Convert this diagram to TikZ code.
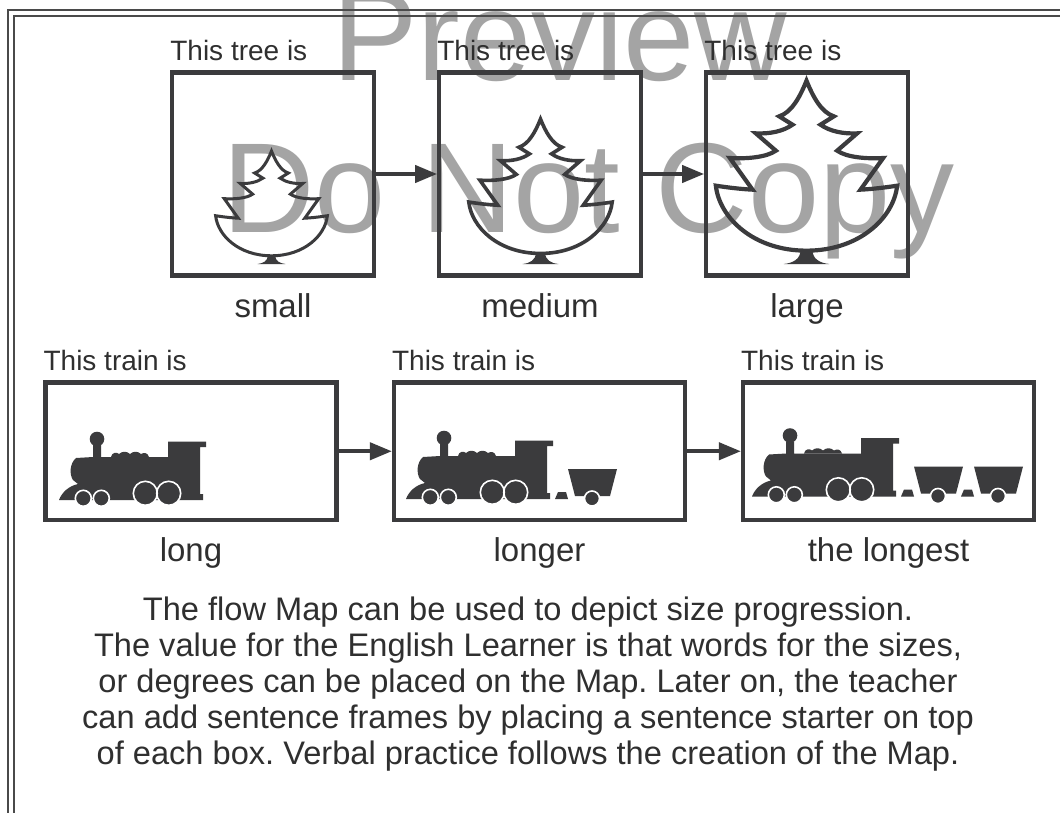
\documentclass[tikz,border=0pt]{standalone}
\usepackage{fontspec}
\setmainfont{Liberation Sans}
\usetikzlibrary{arrows.meta}
\frenchspacing

\definecolor{ink}{HTML}{3B3B3D}
\definecolor{txt}{HTML}{2F2F2F}
\definecolor{wm}{HTML}{A4A4A4}
\definecolor{rule}{HTML}{4A4A4A}

\tikzset{
  panel/.style={draw=ink, line width=4.2pt, inner sep=0pt},
  flow/.style={draw=ink, line width=4pt, -{Triangle[length=22pt,width=17pt]}},
  toplab/.style={font=\fontsize{28}{32}\selectfont, text=txt, inner sep=0pt, anchor=base west},
  botlab/.style={font=\fontsize{33}{38}\selectfont, text=txt, inner sep=0pt, anchor=base},
  para/.style={font=\fontsize{32.6}{36}\selectfont, text=txt, inner sep=0pt, anchor=base},
  wmark/.style={font=\fontsize{128}{130}\selectfont, text=wm, inner sep=0pt, anchor=base west},
  framerule/.style={draw=rule, line width=2pt},
  % fir tree outline standing on a small foot; origin at the foot's base
  firtree/.pic={
    \fill[ink] (-18,-42) .. controls (-18,-15) and (-40,-3) .. (-68,0)
      -- (68,0) .. controls (40,-3) and (18,-15) .. (18,-42) -- cycle;
    \draw[draw=ink, line width=#1, line join=miter, miter limit=4]
      (0,-550) .. controls (20,-500) and (45,-455) .. (82,-443)
      -- (42,-418) .. controls (70,-398) and (110,-390) .. (152,-392)
      -- (92,-340) .. controls (120,-320) and (180,-315) .. (230,-318)
      -- (162,-223) .. controls (200,-225) and (240,-230) .. (272,-235)
      .. controls (262,-140) and (160,-40) .. (0,-40)
      .. controls (-160,-40) and (-262,-140) .. (-272,-235)
      .. controls (-240,-230) and (-200,-225) .. (-162,-223)
      -- (-230,-318) .. controls (-180,-315) and (-120,-320) .. (-92,-340)
      -- (-152,-392) .. controls (-110,-390) and (-70,-398) .. (-42,-418)
      -- (-82,-443) .. controls (-45,-455) and (-20,-500) .. (0,-550) -- cycle;
  },
  % steam locomotive silhouette; origin at the tip of the cowcatcher
  loco/.pic={
    \fill[ink] (0,0) .. controls (3,-8) and (10,-14) .. (19,-16)
      -- (14,-20) .. controls (10,-26) and (11,-37) .. (17,-42)
      -- (34,-43) -- (34,-55) -- (42,-55) -- (42,-43) -- (109,-43)
      -- (109,-58.5) -- (147,-58.5) -- (147,-53) -- (141,-53)
      -- (141,-6) -- (144,-6) -- (144,0) -- cycle;
    \fill[ink] (38,-61) circle (7.3);
    \fill[ink] (52,-43) .. controls (53,-48) and (58,-48) .. (60,-46)
      .. controls (63,-49) and (68,-49) .. (71,-46)
      .. controls (74,-49) and (79,-49) .. (82,-46)
      .. controls (85,-48) and (89,-47) .. (90,-43) -- cycle;
    \filldraw[fill=ink, draw=white, line width=1.6pt]
      (24.3,-1.7) circle (8) (42.3,-1.7) circle (8)
      (86.3,-6.7) circle (12) (109.7,-6.7) circle (12);
  },
  % coupling plus one open wagon, placed behind the locomotive
  car/.pic={
    \fill[ink] (149,0) -- (152,-7) -- (160,-7) -- (162,0) -- cycle;
    \fill[ink] (162,-30) -- (211,-30) -- (204,-3) -- (169,-3) -- cycle;
    \filldraw[fill=ink, draw=white, line width=1.6pt] (186,-0.5) circle (7.5);
  }
}

\begin{document}
\begin{tikzpicture}[x=1pt, y=-1pt]
  \useasboundingbox (0,0) rectangle (1060,813);
  \clip (0,0) rectangle (1060,813);
  \fill[white] (0,0) rectangle (1060,813);

  % watermark
  \node[wmark] (wm1) at (332,81) {Preview};
  \node[wmark] (wm2) at (222,233) {Do Not Copy};

  % double page rule, top and left
  \draw[framerule] (1060,10) -- (8.3,10) -- (8.3,813);
  \draw[framerule] (1060,16) -- (14.3,16) -- (14.3,813);

  % tree row
  \node[panel, minimum width=201.5pt, minimum height=203pt] (t1) at (273,174) {};
  \node[panel, minimum width=201.5pt, minimum height=203pt] (t2) at (540,174) {};
  \node[panel, minimum width=201.5pt, minimum height=203pt] (t3) at (807,174) {};

  \pic[scale=0.2054] at (271.5,264) {firtree=3pt};
  \pic[scale=0.2635] at (540.5,264) {firtree=3.6pt};
  \pic[scale=0.3333] at (806.5,264) {firtree=4.2pt};

  \draw[flow] (t1.east) -- (t2.west);
  \draw[flow] (t2.east) -- (t3.west);

  \node[toplab] (lt1) at ([yshift=9.4pt]t1.north west) {This tree is};
  \node[toplab] (lt2) at ([yshift=9.4pt]t2.north west) {This tree is};
  \node[toplab] (lt3) at ([yshift=9.4pt]t3.north west) {This tree is};

  \node[botlab] (bt1) at ([yshift=-39.6pt]t1.south) {small};
  \node[botlab] (bt2) at ([yshift=-39.6pt]t2.south) {medium};
  \node[botlab] (bt3) at ([yshift=-39.6pt]t3.south) {large};

  % train row
  \node[panel, minimum width=291pt, minimum height=137.5pt] (r1) at (191,451.25) {};
  \node[panel, minimum width=291pt, minimum height=137.5pt] (r2) at (539.5,451.25) {};
  \node[panel, minimum width=291pt, minimum height=137.5pt] (r3) at (888.5,451.25) {};

  \pic at (59,500) {loco};
  \pic at (406,499) {loco};
  \pic at (406,499) {car};
  \pic at (752,496.5) {loco};
  \pic at (752,496.5) {car};
  \pic at (812,496.5) {car};

  \draw[flow] (r1.east) -- (r2.west);
  \draw[flow] (r2.east) -- (r3.west);

  \node[toplab] (lr1) at ([yshift=10.4pt]r1.north west) {This train is};
  \node[toplab] (lr2) at ([yshift=10.4pt]r2.north west) {This train is};
  \node[toplab] (lr3) at ([yshift=10.4pt]r3.north west) {This train is};

  \node[botlab] (br1) at ([yshift=-39.6pt]r1.south) {long};
  \node[botlab] (br2) at ([yshift=-39.6pt]r2.south) {longer};
  \node[botlab] (br3) at ([yshift=-39.6pt]r3.south) {the longest};

  % explanatory paragraph
  \node[para] (p1) at (528,620) {The flow Map can be used to depict size progression.};
  \node[para] (p2) at (528,656) {The value for the English Learner is that words for the sizes,};
  \node[para] (p3) at (528,692) {or degrees can be placed on the Map. Later on, the teacher};
  \node[para] (p4) at (528,728) {can add sentence frames by placing a sentence starter on top};
  \node[para] (p5) at (528,764) {of each box. Verbal practice follows the creation of the Map.};
\end{tikzpicture}
\end{document}
